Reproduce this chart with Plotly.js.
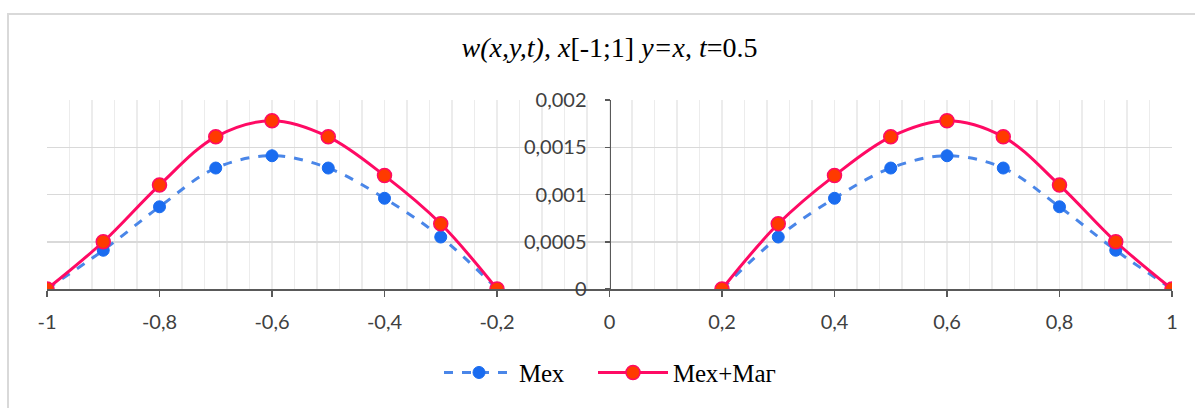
<!DOCTYPE html>
<html>
<head>
<meta charset="utf-8">
<script src="https://cdn.plot.ly/plotly-3.0.1.min.js"></script>
<style>
  html, body { margin: 0; padding: 0; background: #ffffff; overflow: hidden; }
  #frame { position: absolute; left: 7px; top: 13px; width: 1200px; height: 410px; border: 2px solid #d9d9d9; box-sizing: border-box; }
  #chart { position: absolute; left: 0; top: 0; width: 1195px; height: 408px; }
</style>
</head>
<body>
<div id="frame"></div>
<div id="chart"></div>
<script>
// ---- data ----
const xValues = [-1, -0.9, -0.8, -0.7, -0.6, -0.5, -0.4, -0.3, -0.2, null, 0.2, 0.3, 0.4, 0.5, 0.6, 0.7, 0.8, 0.9, 1];
const mexValues = [0, 0.00041, 0.00087, 0.00128, 0.00141, 0.00128, 0.00096, 0.00055, 0, null, 0, 0.00055, 0.00096, 0.00128, 0.00141, 0.00128, 0.00087, 0.00041, 0];
const mexMagValues = [0, 0.0005, 0.0011, 0.00161, 0.00178, 0.00161, 0.0012, 0.00069, 0, null, 0, 0.00069, 0.0012, 0.00161, 0.00178, 0.00161, 0.0011, 0.0005, 0];
const seriesNames = ["Мех", "Мех+Маг"];
const xTickVals = [-1, -0.8, -0.6, -0.4, -0.2, 0, 0.2, 0.4, 0.6, 0.8, 1];
const xTickText = ["-1", "-0,8", "-0,6", "-0,4", "-0,2", "0", "0,2", "0,4", "0,6", "0,8", "1"];
const yTickVals = [0, 0.0005, 0.001, 0.0015, 0.002];
const yTickText = ["0", "0,0005", "0,001", "0,0015", "0,002"];
const titleText = "<i>w(x,y,t)</i>, <i>x</i>[-1;1] <i>y=x</i>, <i>t</i>=0.5";

const traces = [
  {
    x: xValues, y: mexValues, name: seriesNames[0], type: "scatter", mode: "lines+markers",
    connectgaps: false, legend: "legend",
    line: { color: "#4a86e8", width: 3, dash: "dash", shape: "spline", smoothing: 1 },
    marker: { color: "#1a6cf0", size: 12, line: { color: "#1a6cf0", width: 1 } }
  },
  {
    x: xValues, y: mexMagValues, name: seriesNames[1], type: "scatter", mode: "lines+markers",
    connectgaps: false, legend: "legend2",
    line: { color: "#ff0a64", width: 3, shape: "spline", smoothing: 1 },
    marker: { color: "#ff3a00", size: 14, line: { color: "#ff0a64", width: 1.5 } }
  }
];

const tickFont = { family: "Lato, 'Open Sans', sans-serif", size: 20, color: "#404040" };
const legendFont = { family: "'Liberation Serif', 'Times New Roman', serif", size: 25, color: "#000000" };

const layout = {
  width: 1195, height: 408,
  margin: { l: 47, r: 23, t: 100, b: 116, pad: 0 },
  paper_bgcolor: "rgba(0,0,0,0)",
  plot_bgcolor: "rgba(0,0,0,0)",
  separators: ",.",
  showlegend: true,
  title: {
    text: titleText,
    font: { family: "'Liberation Serif', 'Times New Roman', serif", size: 28, color: "#000000" },
    x: 0.5, xref: "paper", xanchor: "center",
    y: 0.885, yref: "container", yanchor: "middle"
  },
  xaxis: {
    range: [-1, 1],
    tickvals: xTickVals, ticktext: xTickText,
    ticks: "outside", ticklen: 6, tickwidth: 1.5, tickcolor: "#595959",
    showline: true, linecolor: "#595959", linewidth: 1.5,
    showgrid: true, gridcolor: "#ececec", gridwidth: 1.5,
    minor: { dtick: 0.04, showgrid: true, gridcolor: "#ececec", gridwidth: 1.5, ticks: "" },
    zeroline: false,
    tickfont: tickFont,
    ticklabelstandoff: 8,
    fixedrange: true
  },
  yaxis: {
    range: [0, 0.002],
    tickvals: yTickVals, ticktext: yTickText,
    anchor: "free", position: 0.5, side: "left",
    ticks: "outside", ticklen: 5, tickwidth: 1.5, tickcolor: "#595959",
    showline: true, linecolor: "#595959", linewidth: 1.5,
    showgrid: true, gridcolor: "#d9d9d9", gridwidth: 1.5,
    zeroline: false,
    tickfont: tickFont,
    ticklabelstandoff: 14,
    fixedrange: true
  },
  legend: {
    orientation: "h",
    x: (443 - 47 - 4) / 1125, xanchor: "left",
    y: -0.443, yanchor: "middle",
    font: legendFont,
    itemwidth: 70,
    bgcolor: "rgba(0,0,0,0)"
  },
  legend2: {
    orientation: "h",
    x: (597 - 47 - 4) / 1125, xanchor: "left",
    y: -0.443, yanchor: "middle",
    font: legendFont,
    itemwidth: 70,
    bgcolor: "rgba(0,0,0,0)"
  }
};

Plotly.newPlot("chart", traces, layout, { displayModeBar: false, staticPlot: true });
</script>
</body>
</html>
